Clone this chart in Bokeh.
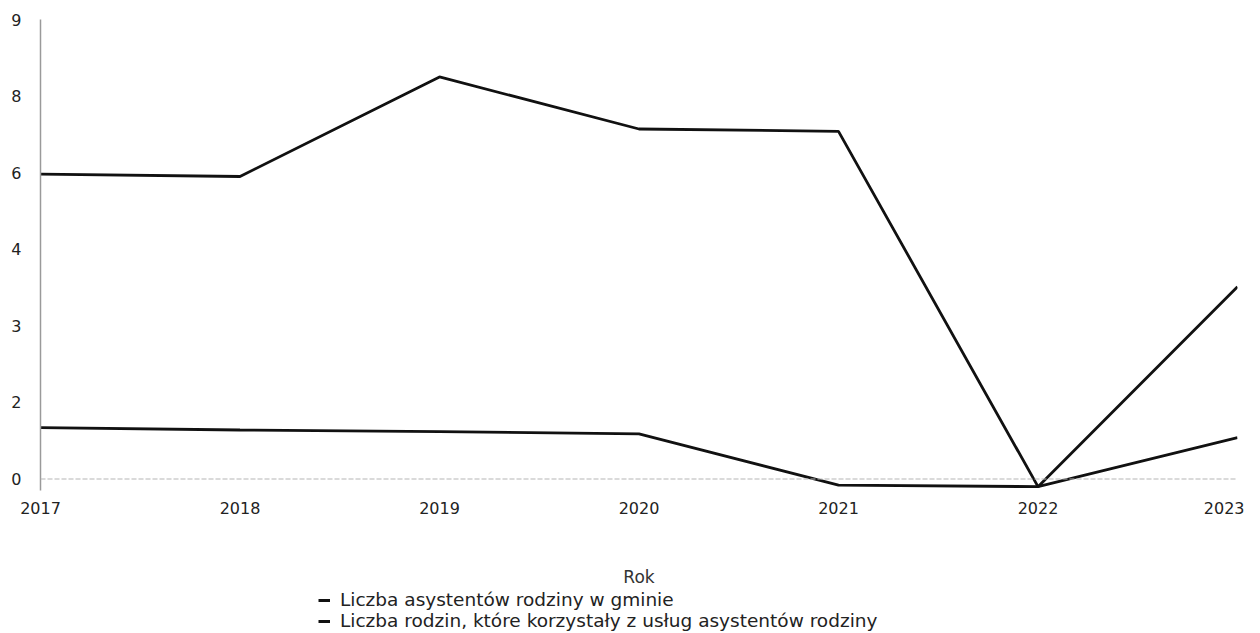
from bokeh.plotting import figure
from bokeh.layouts import column
from bokeh.models import Range1d, Span, Legend, LegendItem, FixedTicker
from bokeh.embed import file_html
from bokeh.resources import INLINE

years = [2017, 2018, 2019, 2020, 2021, 2022, 2023]
# axis tick labels as printed (equally spaced on the chart)
y_tick_labels = ["0", "2", "3", "4", "6", "8", "9"]
# values, in tick-slot units (0 = "0" ... 6 = "9")
rodziny = [3.98, 3.95, 5.25, 4.57, 4.54, -0.10, 2.51]
asystenci = [0.67, 0.64, 0.62, 0.59, -0.08, -0.10, 0.54]

name_asyst = "Liczba asystentów rodziny w gminie"
name_rodz = "Liczba rodzin, które korzystały z usług asystentów rodziny"

FONT = "DejaVu Sans"
LINE_COLOR = "#111111"
LINE_W = 2.8

p = figure(width=1244, height=589, output_backend="svg", toolbar_location=None,
           x_range=Range1d(2017, 2023), y_range=Range1d(-0.15, 6.0),
           min_border_left=40, min_border_right=7, min_border_top=19,
           min_border_bottom=96)
p.outline_line_color = None
p.grid.grid_line_color = None

p.line(years, asystenci, line_color=LINE_COLOR, line_width=LINE_W)
p.line(years, rodziny, line_color=LINE_COLOR, line_width=LINE_W)

p.add_layout(Span(location=0, dimension="width", line_color="#b5b5b5",
                  line_width=1.2, line_dash="5 2"))

p.yaxis.ticker = FixedTicker(ticks=list(range(len(y_tick_labels))))
p.yaxis.major_label_overrides = {i: t for i, t in enumerate(y_tick_labels)}
p.yaxis.major_tick_line_color = None
p.yaxis.minor_tick_line_color = None
p.yaxis.axis_line_color = "#9a9a9a"
p.yaxis.axis_line_width = 1.5
p.yaxis.major_label_standoff = 13
p.yaxis.major_label_text_font = FONT
p.yaxis.major_label_text_font_size = "16px"
p.yaxis.major_label_text_color = "#222222"

p.xaxis.ticker = FixedTicker(ticks=years)
p.xaxis.axis_line_color = None
p.xaxis.major_tick_line_color = None
p.xaxis.minor_tick_line_color = None
p.xaxis.major_label_standoff = 5
p.xaxis.major_label_text_font = FONT
p.xaxis.major_label_text_font_size = "16px"
p.xaxis.major_label_text_color = "#222222"
p.xaxis.axis_label = "Rok"
p.xaxis.axis_label_standoff = 50
p.xaxis.axis_label_text_font = FONT
p.xaxis.axis_label_text_font_size = "17px"
p.xaxis.axis_label_text_font_style = "normal"
p.xaxis.axis_label_text_color = "#333333"

# legend strip below the chart (its frame is aligned with the chart's frame)
lg = figure(width=1244, height=42, output_backend="svg", toolbar_location=None,
            x_axis_type=None, y_axis_type=None, min_border=0,
            x_range=Range1d(0, 1), y_range=Range1d(0, 1))
lg.outline_line_color = None
lg.grid.grid_line_color = None
g1 = lg.line([0, 1], [5, 5], line_color=LINE_COLOR, line_width=3)
g2 = lg.line([0, 1], [5, 5], line_color=LINE_COLOR, line_width=3)
legend = Legend(items=[LegendItem(label=name_asyst, renderers=[g1]),
                       LegendItem(label=name_rodz, renderers=[g2])],
                location=(278, 0), orientation="vertical",
                label_text_font=FONT, label_text_font_size="18.5px",
                label_text_color="#222222", glyph_width=12, glyph_height=20,
                label_standoff=10, spacing=0, padding=0, margin=0,
                border_line_color=None, background_fill_alpha=0,
                label_height=20)
lg.add_layout(legend, "center")

layout = column(p, lg, spacing=0)
open("out.html", "w").write(file_html(layout, INLINE))
